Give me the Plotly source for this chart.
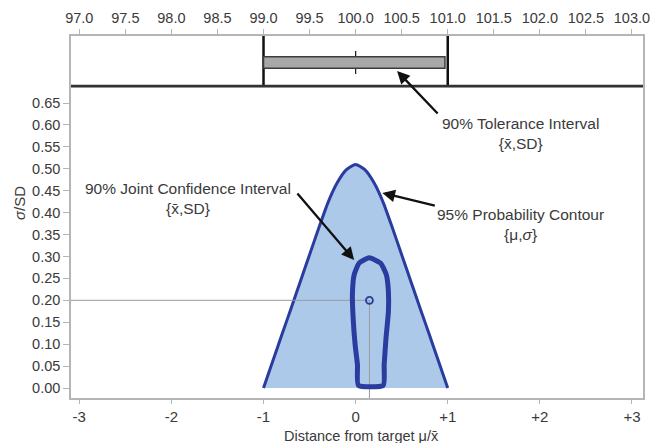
import plotly.graph_objects as go

# ---- data ----
# 95% probability contour {mu, sigma}
contour_mu = [-1.0, -0.9, -0.8, -0.7, -0.6, -0.5, -0.4, -0.3, -0.2, -0.1, 0.0,
              0.1, 0.2, 0.3, 0.4, 0.5, 0.6, 0.7, 0.8, 0.9, 1.0]
contour_sigma = [0.0, 0.061, 0.122, 0.182, 0.243, 0.304, 0.365, 0.423, 0.468, 0.498, 0.510,
                 0.498, 0.468, 0.423, 0.365, 0.304, 0.243, 0.182, 0.122, 0.061, 0.0]

# 90% joint confidence interval {xbar, SD}
jci_x = [0.146, 0.27, 0.334, 0.356, 0.356, 0.33, 0.31, 0.30, 0.03, 0.02, -0.005,
         -0.027, -0.035, -0.016, 0.038, 0.146]
jci_sd = [0.297, 0.285, 0.258, 0.22, 0.174, 0.114, 0.053, 0.006, 0.006, 0.053, 0.098,
          0.16, 0.212, 0.258, 0.285, 0.297]

# sample estimate
xbar = [0.15]
sd = [0.20]

# 90% tolerance interval (top panel, measurement scale)
tol_low = 99.0
tol_high = 101.0
tol_center = 100.0
tol_box_high = 100.97

top_ticks = [97.0, 97.5, 98.0, 98.5, 99.0, 99.5, 100.0, 100.5, 101.0, 101.5, 102.0, 102.5, 103.0]
top_labels = [f"{v:.1f}" for v in top_ticks]
bottom_ticks = [-3, -2, -1, 0, 1, 2, 3]
bottom_labels = ["-3", "-2", "-1", "0", "+1", "+2", "+3"]
y_ticks = [0.00, 0.05, 0.10, 0.15, 0.20, 0.25, 0.30, 0.35, 0.40, 0.45, 0.50, 0.55, 0.60, 0.65]
y_labels = [f"{v:.2f}" for v in y_ticks]

# ---- styling ----
DARK_BLUE = "rgb(42,60,158)"
LIGHT_BLUE = "rgb(172,201,233)"
AXIS_GRAY = "#b5b5b5"
TEXT = "#3a3a3a"
FONT = "Liberation Sans"

X_RANGE = [-3.09, 3.12]
Y_RANGE = [-0.0228, 0.689]
TOP_DOMAIN = [0.862, 1.0]

fig = go.Figure()

# probability contour (filled)
fig.add_trace(go.Scatter(x=contour_mu, y=contour_sigma, mode="lines", fill="toself",
                         fillcolor=LIGHT_BLUE, line=dict(color=DARK_BLUE, width=3, shape="spline", smoothing=0.6),
                         xaxis="x", yaxis="y", hoverinfo="skip"))

# crosshair lines to the estimate
fig.add_trace(go.Scatter(x=[X_RANGE[0], xbar[0], xbar[0]], y=[sd[0], sd[0], Y_RANGE[0]], mode="lines",
                         line=dict(color="#9a9a9a", width=1), xaxis="x", yaxis="y", hoverinfo="skip"))

# joint confidence loop
fig.add_trace(go.Scatter(x=jci_x, y=jci_sd, mode="lines",
                         line=dict(color=DARK_BLUE, width=5, shape="spline", smoothing=0.5),
                         xaxis="x", yaxis="y", hoverinfo="skip"))

# estimate point
fig.add_trace(go.Scatter(x=xbar, y=sd, mode="markers",
                         marker=dict(symbol="circle-open", size=7, color=DARK_BLUE, line=dict(width=1.8)),
                         xaxis="x", yaxis="y"))

# top panel: tolerance interval limits
for v in (tol_low, tol_high):
    fig.add_trace(go.Scatter(x=[v, v], y=[0, 1], mode="lines", line=dict(color="#111", width=2.5),
                             xaxis="x2", yaxis="y2", hoverinfo="skip"))
fig.add_shape(type="rect", xref="x2", yref="y2", x0=tol_low, x1=tol_box_high, y0=0.354, y1=0.586,
              fillcolor="#a8a8a8", line=dict(color="#3c3c3c", width=1.5))
fig.add_trace(go.Scatter(x=[tol_center, tol_center], y=[0.24, 0.70], mode="lines",
                         line=dict(color="#222", width=1.3), xaxis="x2", yaxis="y2", hoverinfo="skip"))

# thick separator line at bottom of top panel
fig.add_shape(type="line", xref="paper", yref="paper", x0=0, x1=1, y0=TOP_DOMAIN[0], y1=TOP_DOMAIN[0],
              line=dict(color="#333", width=2.5))

# ---- annotations ----
def label(text, x, y, size=15.5, angle=0):
    fig.add_annotation(text=text, xref="paper", yref="paper", x=x, y=y, showarrow=False,
                       xanchor="center", yanchor="middle", textangle=angle,
                       font=dict(family=FONT, size=size, color=TEXT), align="center")

def arrow(xref, yref, x, y, ax, ay):
    fig.add_annotation(text="", xref=xref, yref=yref, x=x, y=y, ax=ax, ay=ay, showarrow=True,
                       arrowhead=2, arrowsize=1.1, arrowwidth=2.3, arrowcolor="#111")

label("90% Tolerance Interval<br>{x\u0304,SD}", 0.785, 0.732)
arrow("x2", "y2", 100.45, 0.30, 42, 44)

label("95% Probability Contour<br>{\u03bc,<i>\u03c3</i>}", 0.785, 0.478)
arrow("x", "y", 0.29, 0.445, 54, 13)

label("90% Joint Confidence Interval<br>{x\u0304,SD}", 0.2045, 0.55)
arrow("x", "y", -0.016, 0.292, -58, -68)

# axis titles
label("<i>\u03c3</i>/SD", -0.089, 0.539, size=15, angle=-90)
label("Distance from target \u03bc/x\u0304", 0.507, -0.104, size=14.5)

# ---- layout ----
# the page adds an 8px body margin, so the figure is sized to fit the window
fig.update_layout(
    width=655, height=435,
    margin=dict(l=63, r=20, t=28, b=45),
    paper_bgcolor="white", plot_bgcolor="white",
    showlegend=False,
    font=dict(family=FONT, color=TEXT, size=13),
    xaxis=dict(domain=[0, 1], anchor="y", range=X_RANGE, tickvals=bottom_ticks, ticktext=bottom_labels,
               ticks="outside", ticklen=4, tickcolor=AXIS_GRAY, showline=True, linecolor=AXIS_GRAY,
               linewidth=1.5, showgrid=False, zeroline=False, tickfont=dict(size=15), automargin=False),
    yaxis=dict(domain=[0, TOP_DOMAIN[0]], anchor="x", range=Y_RANGE, tickvals=y_ticks, ticktext=y_labels,
               ticks="outside", ticklen=6, tickcolor=AXIS_GRAY, showline=True, linecolor=AXIS_GRAY,
               linewidth=1.5, mirror=True, showgrid=False, zeroline=False, tickfont=dict(size=14.5),
               automargin=False),
    xaxis2=dict(domain=[0, 1], anchor="y2", side="top", range=[100 + X_RANGE[0], 100 + X_RANGE[1]],
                tickvals=top_ticks, ticktext=top_labels, ticks="outside", ticklen=5, tickcolor=AXIS_GRAY,
                showline=True, linecolor=AXIS_GRAY, linewidth=1.5, mirror=True, showgrid=False,
                zeroline=False, tickfont=dict(size=14.5), automargin=False),
    yaxis2=dict(domain=TOP_DOMAIN, anchor="x2", range=[0, 1], showticklabels=False, ticks="",
                showline=True, linecolor=AXIS_GRAY, linewidth=1.5, mirror=True, showgrid=False,
                zeroline=False, automargin=False),
)

fig.write_html("out.html")
